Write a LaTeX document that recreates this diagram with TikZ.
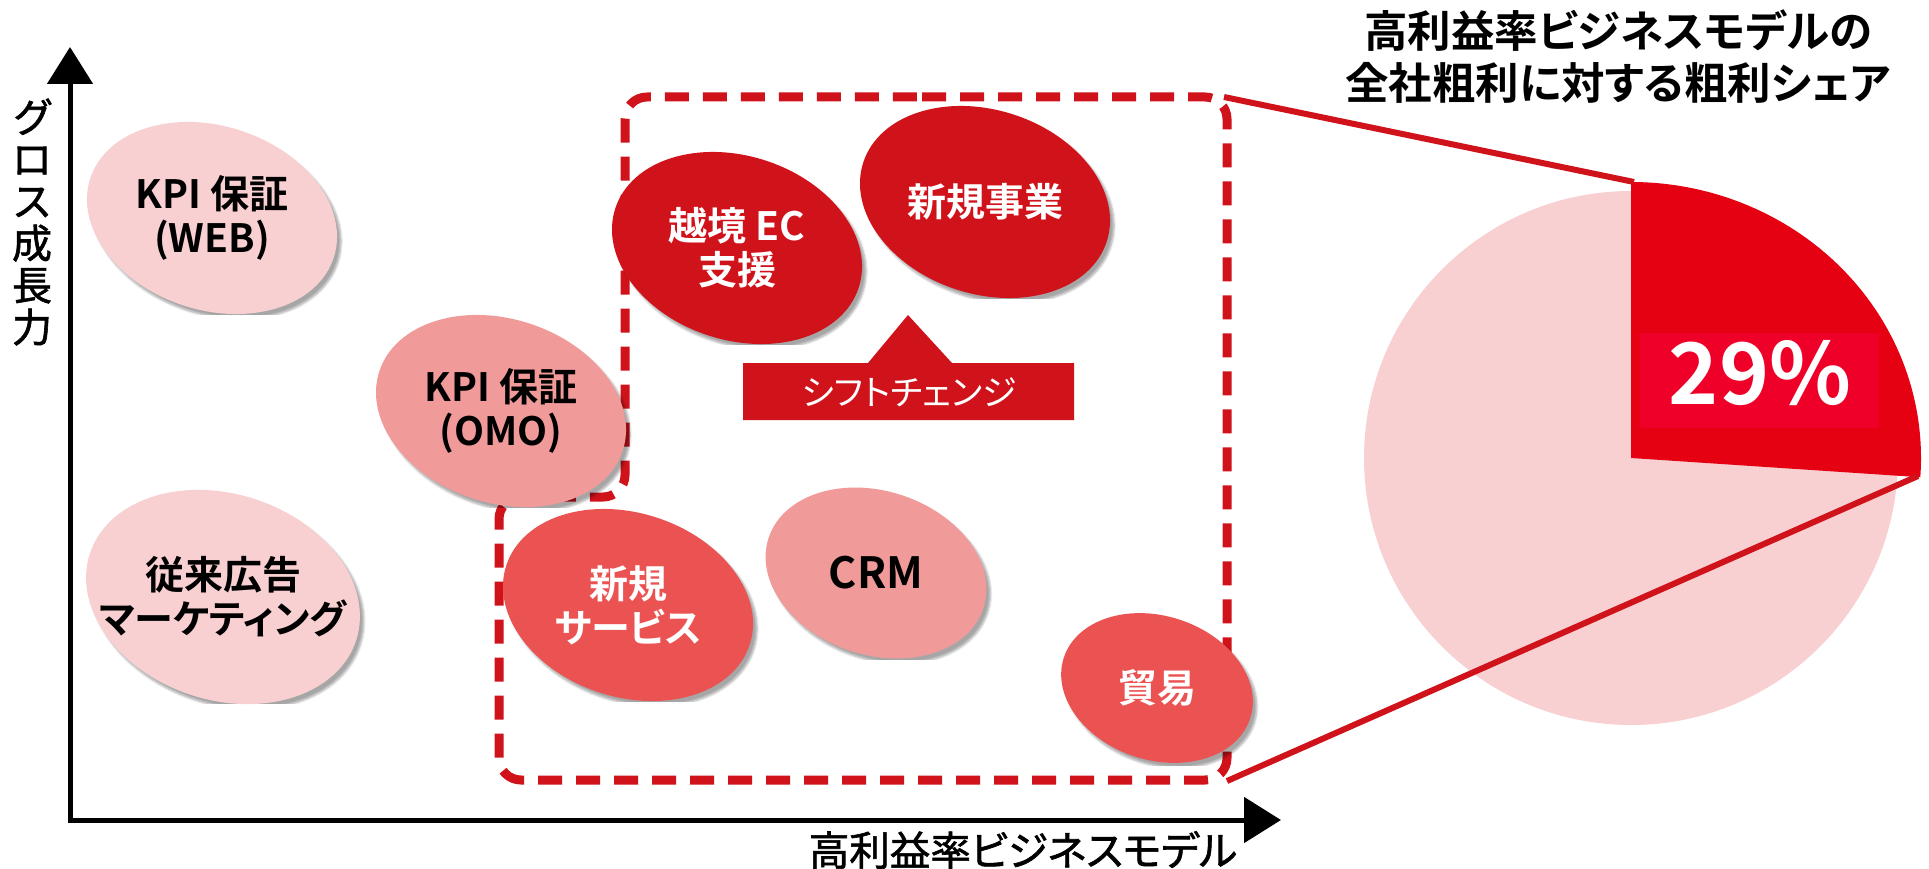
\documentclass[tikz,border=0pt]{standalone}
\usepackage{fontspec}
\setmainfont{Noto Sans CJK JP}[BoldFont={Noto Sans CJK JP Bold},RawFeature=+palt]
\newfontfamily\jpaxis{Noto Sans CJK JP}[FakeBold=1.5,RawFeature=+palt]
\usetikzlibrary{shapes.geometric,shadows.blur,arrows.meta}
\definecolor{lpink}{HTML}{F8D0D2}
\definecolor{mpink}{HTML}{F19A9A}
\definecolor{coral}{HTML}{EB5353}
\definecolor{dred}{HTML}{D0121B}
\definecolor{wred}{HTML}{E50012}
\definecolor{bred}{HTML}{EE0028}
\begin{document}
\begin{tikzpicture}[x=1pt,y=-1pt,
  bubshape/.style={ellipse, inner sep=0pt, rotate=-18,
    blur shadow={shadow xshift=4pt, shadow yshift=-5pt, shadow opacity=35, shadow blur steps=6}},
  big/.style={bubshape, minimum width=256pt, minimum height=184pt},
  bubtext/.style={inner sep=0pt, align=center, font=\fontsize{39}{44}\selectfont\bfseries},
  conn/.style={dred, line width=6pt},
]
\useasboundingbox (0,0) rectangle (1929,869);

% axes
\coordinate (ytip) at (70,47);
\coordinate (orig) at (70,820);
\coordinate (xtip) at (1281,820);
\draw[line width=5pt, {Triangle[length=37pt,width=45pt]}-{Triangle[length=37pt,width=45pt]}] (ytip) -- (orig) -- (xtip);
\node[font=\fontsize{40}{42}\selectfont\jpaxis, align=center, inner sep=0pt] (ylab) at (32,222) {グ\\ロ\\ス\\成\\長\\力};
\node[font=\fontsize{40.5}{40.5}\selectfont\jpaxis, inner sep=0pt] (xlab) at (1023,850) {高利益率ビジネスモデル};

% dashed region
\draw[dred, line width=9pt, dash pattern=on 24pt off 14pt, rounded corners=22pt]
  (900,97) -- (1227,97) -- (1227,780) -- (499,780) -- (499,497) -- (625,497) -- (625,97) -- cycle;

% shift change callout
\fill[dred] (743,363) -- (868,363) -- (908,315) -- (952,363) -- (1074,363) -- (1074,420) -- (743,420) -- cycle;
\node[text=white, font=\fontsize{35}{35}\selectfont, inner sep=0pt] (shift) at (909,392) {シフトチェンジ};

% bubbles
\node[big, fill=lpink] (web) at (212,218) {};
\node[bubtext] (webt) at (web.center) {KPI 保証\\(WEB)};
\node[big, fill=mpink] (omo) at (501,411) {};
\node[bubtext] (omot) at (omo.center) {KPI 保証\\(OMO)};
\node[bubshape, fill=lpink, minimum width=280pt, minimum height=206pt] (trad) at (223,597) {};
\node[bubtext] (tradt) at (trad.center) {従来広告\\マーケティング};
\node[big, fill=dred] (ec) at (737,248) {};
\node[bubtext, text=white] (ect) at (ec.center) {越境 EC\\支援};
\node[big, fill=dred] (newbiz) at (985,202) {};
\node[bubtext, text=white] (newbizt) at (newbiz.center) {新規事業};
\node[big, fill=coral] (newsvc) at (628,605) {};
\node[bubtext, text=white] (newsvct) at (newsvc.center) {新規\\サービス};
\node[bubshape, fill=mpink, minimum width=226pt, minimum height=164pt] (crm) at (876,573) {};
\node[bubtext, font=\fontsize{43}{44}\selectfont\bfseries] (crmt) at (crm.center) {CRM};
\node[bubshape, fill=coral, minimum width=196pt, minimum height=144pt] (trade) at (1157,688) {};
\node[bubtext, text=white] (tradet) at (trade.center) {貿易};

% title
\node[font=\fontsize{43.5}{52}\selectfont\bfseries, align=center, inner sep=0pt] (title) at (1618,57)
  {高利益率ビジネスモデルの\\全社粗利に対する粗利シェア};

% pie
\coordinate (pc) at (1631,458);
\fill[lpink] (pc) circle[radius=267];
\fill[wred] (pc) -- ++(0,-276) arc[start angle=-90, end angle=4, x radius=290, y radius=276] -- cycle;
\node[fill=bred, minimum width=239pt, minimum height=95pt, inner sep=0pt] (pctbox) at (1759,380) {};
\node[text=white, font=\fontsize{85}{85}\selectfont\bfseries, inner sep=0pt] (pct) at (1760,373) {29\%};

% connectors
\coordinate (bTR) at (1224,97);
\coordinate (bBR) at (1227,781);
\coordinate (wTop) at (1634,182);
\coordinate (wR) at (1918,476);
\draw[conn] (bTR) -- (wTop);
\draw[conn] (bBR) -- (wR);
\end{tikzpicture}
\end{document}
